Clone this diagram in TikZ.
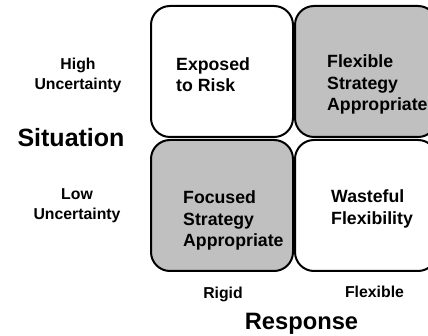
\documentclass[tikz,border=0pt]{standalone}
\usepackage{fontspec}
\setmainfont{Liberation Sans}
\definecolor{boxgray}{RGB}{192,192,192}
\tikzset{
  cell/.style={draw, line width=2pt, rounded corners=19pt, minimum width=142pt, minimum height=131pt, inner sep=0pt},
  boxtext/.style={anchor=base west, align=left, inner sep=0pt, font=\bfseries\fontsize{17.7}{21.5}\selectfont},
  sidetext/.style={anchor=base, align=center, inner sep=0pt, font=\bfseries\fontsize{15.8}{20}\selectfont},
  axistext/.style={anchor=base, inner sep=0pt, font=\bfseries\fontsize{25}{30}\selectfont}
}

\begin{document}
\begin{tikzpicture}[x=1pt, y=-1pt]
    \useasboundingbox (0,0) rectangle (428,336);
    \clip (0,0) rectangle (428,336);
    % the four cells
    \node[cell, fill=white] (TL) at (222,71.5) {};
    \node[cell, fill=boxgray] (TR) at (366,71.5) {};
    \node[cell, fill=boxgray] (BL) at (222,205.5) {};
    \node[cell, fill=white] (BR) at (366,205.5) {};
    % base is the last line of each block
    \node[boxtext] (exposed) at (176,92) {Exposed\\to Risk};
    \node[boxtext] (flexstrat) at (327,111) {Flexible\\Strategy\\Appropriate};
    \node[boxtext] (focused) at (183,247) {Focused\\Strategy\\Appropriate};
    \node[boxtext] (wasteful) at (331,224.5) {Wasteful\\Flexibility};
    % situation axis
    \node[sidetext] (high) at (78,89.5) {High\\Uncertainty};
    \node[sidetext] (low) at (77,220) {Low\\Uncertainty};
    \node[axistext] (situation) at (71,147) {Situation};
    % response axis
    \node[sidetext] (rigid) at (223,299) {Rigid};
    \node[sidetext] (flexible) at (374.5,297.5) {Flexible};
    \node[axistext, font=\bfseries\fontsize{23.7}{28}\selectfont] (response) at (301.5,330) {Response};
\end{tikzpicture}
\end{document}
